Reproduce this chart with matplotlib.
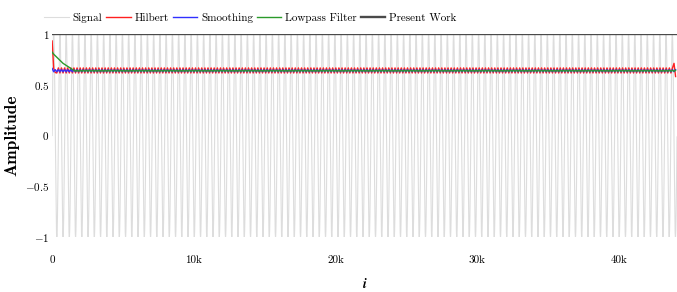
import numpy as np
import matplotlib.pyplot as plt
from matplotlib.ticker import FuncFormatter

# Test tone: ~100 cycles over 44100 samples
sample_rate = 44100
tone_hz = 100
n_samples = 44100

# Envelope estimates, one value per quarter cycle of the tone (ripple pairs + edge values)
step = 110
hilbert_ripple = [0.665, 0.615]
hilbert_head = [0.93, 0.66, 0.62]
hilbert_tail = [0.71, 0.58]
smoothing_ripple = [0.648, 0.627]
smoothing_head = [0.66]
lowpass_ripple = [0.642, 0.632]
lowpass_head = [0.82, 0.80, 0.785, 0.77, 0.755, 0.74, 0.725, 0.71, 0.70,
                0.69, 0.68, 0.67, 0.66, 0.65]
present_work = [1.0, 1.0]

xticks = [0, 10000, 20000, 30000, 40000]
yticks = [-1, -0.5, 0, 0.5, 1]

plt.rcParams['font.family'] = 'serif'
plt.rcParams['font.serif'] = ['cmr10', 'DejaVu Serif']
plt.rcParams['mathtext.fontset'] = 'cm'
plt.rcParams['axes.formatter.use_mathtext'] = True

i = np.arange(n_samples)
signal = np.sin(2 * np.pi * tone_hz * i / sample_rate)

env_x = np.arange(0, n_samples + 1, step)
n_env = len(env_x)


def build_env(ripple, head, tail=()):
    vals = np.tile(ripple, n_env // len(ripple) + 1)[:n_env].astype(float)
    vals[:len(head)] = head
    if len(tail):
        vals[-len(tail):] = tail
    return vals


hilbert = build_env(hilbert_ripple, hilbert_head, hilbert_tail)
smoothing = build_env(smoothing_ripple, smoothing_head)
lowpass = build_env(lowpass_ripple, lowpass_head)

fig, ax = plt.subplots(figsize=(6.77, 2.92), dpi=100)
fig.subplots_adjust(left=0.077, right=1.0, top=0.884, bottom=0.188)

ax.plot(i, signal, color='#dddddd', lw=0.8, label='Signal')
ax.plot(env_x, hilbert, color='#ff2020', lw=1.0, label='Hilbert')
ax.plot(env_x, smoothing, color='#3030ff', lw=1.0, label='Smoothing')
ax.plot(env_x, lowpass, color='#2a9a2a', lw=1.0, label='Lowpass Filter')
ax.plot([0, n_samples], present_work, color='#4a4a4a', lw=1.7, label='Present Work')

ax.set_xlim(0, n_samples)
ax.set_ylim(-1, 1)
ax.set_xticks(xticks)
ax.set_yticks(yticks)
ax.xaxis.set_major_formatter(FuncFormatter(lambda v, p: '0' if v == 0 else f'{v/1000:.0f}k'))
ax.yaxis.set_major_formatter(FuncFormatter(lambda v, p: f'${v:g}$'))
ax.tick_params(length=0, labelsize=8)
ax.tick_params(axis='x', pad=13)
ax.tick_params(axis='y', pad=2)
for s in ax.spines.values():
    s.set_visible(False)

ax.set_ylabel('Amplitude', fontsize=12.5, fontfamily='cmb10', labelpad=4)
ax.set_xlabel(r'$\boldsymbol{i}$', fontsize=10, labelpad=9)

ax.legend(loc='lower left', bbox_to_anchor=(-0.025, 1.015), ncol=5, frameon=False,
          fontsize=8, handlelength=2.2, handletextpad=0.35, columnspacing=0.35,
          borderaxespad=0.3)

fig.savefig('out.png')
